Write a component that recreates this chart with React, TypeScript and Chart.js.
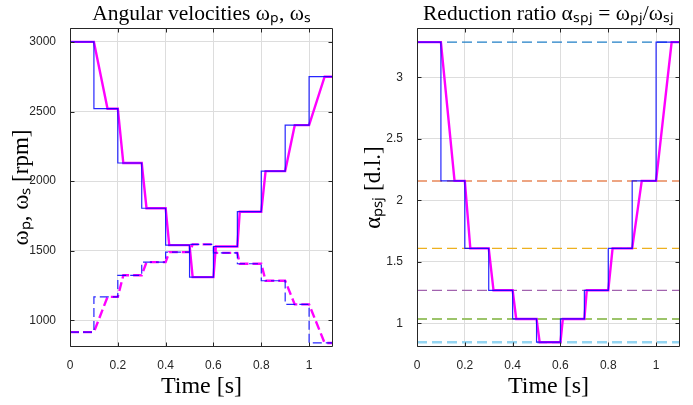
import React, { useEffect, useRef } from 'react';
import { Chart, registerables } from 'chart.js';

Chart.register(...registerables);

// ---------- data ----------
const switchTimes = [0, 0.1, 0.2, 0.3, 0.4, 0.5, 0.6, 0.7, 0.8, 0.9, 1.0];
const endTime = 1.1;
// times at which the smoothed (magenta) signal reaches the new level after each switch (0.1 ... 1.0)
const rampEndTimes = [0.157, 0.223, 0.32, 0.415, 0.513, 0.61, 0.71, 0.818, 0.94, 1.065];
const omegaP = [3000, 2520, 2130, 1805, 1540, 1310, 1530, 1780, 2072, 2402, 2750];
const omegaS = [915, 1168, 1323, 1418, 1490, 1545, 1484, 1406, 1284, 1114, 837];
const ratio = [3.285, 2.157, 1.609, 1.268, 1.035, 0.846, 1.035, 1.268, 1.609, 2.157, 3.285];
const gearRatios = [3.285, 2.157, 1.609, 1.268, 1.035, 0.846];
const gearColors = ['#1f7fc6', '#eda582', '#edb120', '#a263ae', '#9cc46a', '#94d5f2'];
const gearWidths = [1.2, 2, 1.2, 1.2, 2, 2.5];

const xTicks = [0, 0.2, 0.4, 0.6, 0.8, 1];
const leftYTicks = [1000, 1500, 2000, 2500, 3000];
const rightYTicks = [1, 1.5, 2, 2.5, 3];

const leftTitle = 'Angular velocities ωₚ, ωₛ';
const leftYLabel = 'ωₚ, ωₛ [rpm]';
const rightTitle = 'Reduction ratio αₛₚⱼ = ωₚⱼ/ωₛⱼ';
const rightYLabel = 'αₚₛⱼ [d.l.]';
const xLabel = 'Time [s]';

const leftYRange = [808, 3100];
const rightYRange = [0.807, 3.4];

// ---------- helpers ----------
const stepPoints = (vals: number[]) => {
  const pts = switchTimes.map((t, i) => ({ x: t, y: vals[i] }));
  pts.push({ x: endTime, y: vals[vals.length - 1] });
  return pts;
};
const rampPoints = (vals: number[]) => {
  const pts: { x: number; y: number }[] = [{ x: switchTimes[0], y: vals[0] }];
  for (let k = 1; k < switchTimes.length; k++) {
    pts.push({ x: switchTimes[k], y: vals[k - 1] });
    pts.push({ x: rampEndTimes[k - 1], y: vals[k] });
  }
  pts.push({ x: endTime, y: vals[vals.length - 1] });
  return pts;
};

const AXIS_COLOR = '#262626';
const GRID_COLOR = '#dddddd';
const TICK_FONT = { family: "'Liberation Sans', Arial, sans-serif", size: 12 };
const SERIF = "'Liberation Serif', 'Times New Roman', serif";

const frameTicks = {
  id: 'frameTicks',
  afterDatasetsDraw(chart: any) {
    const { ctx, chartArea } = chart;
    const { left, right, top, bottom } = chartArea;
    const L = Math.round(left) + 0.5;
    const R = Math.round(right) - 0.5;
    const T = Math.round(top) + 0.5;
    const B = Math.round(bottom) - 0.5;
    ctx.save();
    ctx.strokeStyle = AXIS_COLOR;
    ctx.lineWidth = 1;
    ctx.beginPath();
    ctx.rect(L, T, R - L, B - T);
    ctx.stroke();
    const tl = 4;
    const xs = chart.scales.x;
    const ys = chart.scales.y;
    ctx.beginPath();
    xs.ticks.forEach((t: any) => {
      const px = Math.round(xs.getPixelForValue(t.value)) + 0.5;
      ctx.moveTo(px, B);
      ctx.lineTo(px, B - tl);
      ctx.moveTo(px, T);
      ctx.lineTo(px, T + tl);
    });
    ys.ticks.forEach((t: any) => {
      const py = Math.round(ys.getPixelForValue(t.value)) + 0.5;
      ctx.moveTo(L, py);
      ctx.lineTo(L + tl, py);
      ctx.moveTo(R, py);
      ctx.lineTo(R - tl, py);
    });
    ctx.stroke();
    ctx.restore();
  },
};

function makeOptions(
  title: string,
  yLabel: string,
  yRange: number[],
  yTicks: number[],
  yTitlePad: number,
  yAxisWidth: number
) {
  return {
    responsive: false,
    animation: false,
    devicePixelRatio: 1,
    layout: { padding: { left: 0, right: 13, top: 0, bottom: 0 } },
    plugins: {
      legend: { display: false },
      tooltip: { enabled: false },
      title: {
        display: true,
        text: title,
        fullSize: false,
        color: '#000',
        font: { family: SERIF, size: 21.5, weight: 'normal' },
        padding: { top: 1, bottom: 1.2 },
      },
    },
    elements: { point: { radius: 0 }, line: { tension: 0 } },
    scales: {
      x: {
        type: 'linear',
        min: 0,
        max: endTime,
        border: { display: false },
        grid: { color: GRID_COLOR, drawTicks: false, lineWidth: 1 },
        afterBuildTicks: (s: any) => {
          s.ticks = xTicks.map((v) => ({ value: v }));
        },
        ticks: {
          autoSkip: false,
          padding: 11,
          color: AXIS_COLOR,
          font: TICK_FONT,
          maxRotation: 0,
          callback: (v: number) => String(v),
        },
        title: {
          display: true,
          text: xLabel,
          color: '#000',
          font: { family: SERIF, size: 24, weight: 'normal' },
          padding: { top: 0, bottom: 4 },
        },
        afterFit: (s: any) => {
          s.height = 58;
        },
      },
      y: {
        type: 'linear',
        min: yRange[0],
        max: yRange[1],
        border: { display: false },
        grid: { color: GRID_COLOR, drawTicks: false, lineWidth: 1 },
        afterBuildTicks: (s: any) => {
          s.ticks = yTicks.map((v) => ({ value: v }));
        },
        ticks: {
          autoSkip: false,
          padding: 14,
          color: AXIS_COLOR,
          font: TICK_FONT,
          callback: (v: number) => String(v),
        },
        title: {
          display: true,
          text: yLabel,
          color: '#000',
          font: { family: SERIF, size: 23, weight: 'normal' },
          padding: { top: yTitlePad, bottom: 0 },
        },
        afterFit: (s: any) => {
          s.width = yAxisWidth;
        },
      },
    },
  };
}

function LeftChart() {
  const ref = useRef<HTMLCanvasElement>(null);
  useEffect(() => {
    if (!ref.current) return;
    const chart = new Chart(ref.current, {
      type: 'line',
      data: {
        datasets: [
          { data: stepPoints(omegaP), borderColor: 'rgba(0,0,255,0.85)', borderWidth: 1.2, stepped: 'before', fill: false },
          { data: stepPoints(omegaS), borderColor: 'rgba(0,0,255,0.85)', borderWidth: 1.2, stepped: 'before', borderDash: [9, 4], fill: false },
          { data: rampPoints(omegaP), borderColor: '#ff00ff', borderWidth: 2.4, fill: false },
          { data: rampPoints(omegaS), borderColor: '#ff00ff', borderWidth: 2.4, borderDash: [9, 4], fill: false },
        ],
      } as any,
      options: makeOptions(leftTitle, leftYLabel, leftYRange, leftYTicks, 8, 70) as any,
      plugins: [frameTicks],
    });
    return () => chart.destroy();
  }, []);
  return <canvas ref={ref} width={346} height={405} style={{ width: 346, height: 405, display: 'block' }} />;
}

function RightChart() {
  const ref = useRef<HTMLCanvasElement>(null);
  useEffect(() => {
    if (!ref.current) return;
    const refSets = gearRatios.map((g, i) => ({
      data: [
        { x: 0, y: g },
        { x: endTime, y: g },
      ],
      borderColor: gearColors[i],
      borderWidth: gearWidths[i],
      borderDash: [10, 5],
      fill: false,
    }));
    const chart = new Chart(ref.current, {
      type: 'line',
      data: {
        datasets: [
          { data: stepPoints(ratio), borderColor: 'rgba(0,0,255,0.85)', borderWidth: 1.2, stepped: 'before', fill: false },
          { data: rampPoints(ratio), borderColor: '#ff00ff', borderWidth: 2.4, fill: false },
          ...refSets,
        ],
      } as any,
      options: makeOptions(rightTitle, rightYLabel, rightYRange, rightYTicks, 14, 71) as any,
      plugins: [frameTicks],
    });
    return () => chart.destroy();
  }, []);
  return <canvas ref={ref} width={347} height={405} style={{ width: 347, height: 405, display: 'block' }} />;
}

export default function App() {
  return (
    <div style={{ position: 'fixed', left: 0, top: 0, width: 693, height: 405, background: '#fff' }}>
      <div style={{ position: 'absolute', left: 0, top: 0 }}>
        <LeftChart />
      </div>
      <div style={{ position: 'absolute', left: 346, top: 0 }}>
        <RightChart />
      </div>
    </div>
  );
}
